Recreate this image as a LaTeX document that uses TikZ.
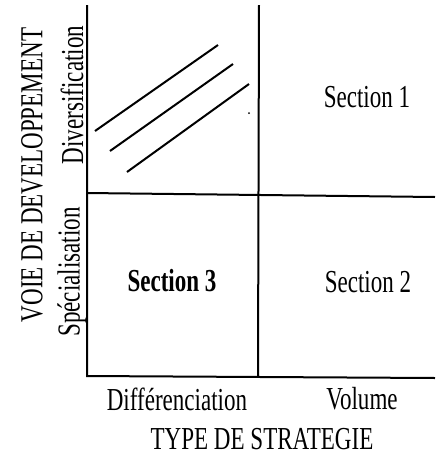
\documentclass[tikz,border=0pt]{standalone}
\usepackage{fontspec}
\setmainfont[FakeStretch=0.72]{Liberation Serif}
\begin{document}
\begin{tikzpicture}[x=1pt,y=-1pt,
  axisline/.style={line width=2pt},
  hatch/.style={line width=2pt},
  lbl/.style={font=\fontsize{32}{34}\selectfont, inner sep=0pt},
  sect/.style={lbl},
  sectb/.style={lbl, font=\fontsize{32}{34}\selectfont\bfseries}]
\useasboundingbox (0,0) rectangle (442,456);
% axis corners
\coordinate (tl) at (87,5);
\coordinate (bl) at (87,376);
\coordinate (br) at (435,378);
\coordinate (mt) at (259,5);
\coordinate (mb) at (258,377);
\coordinate (ml) at (87,193);
\coordinate (mr) at (435,197);
\draw[axisline] (tl) -- (bl) -- (br);
\draw[axisline] (mt) -- (mb);
\draw[axisline] (ml) -- (mr);
% diagonal lines
\coordinate (a1) at (95,131);  \coordinate (b1) at (218,45);
\coordinate (a2) at (110,151); \coordinate (b2) at (233,64);
\coordinate (a3) at (127,172); \coordinate (b3) at (249,84);
\draw[hatch] (a1) -- (b1);
\draw[hatch] (a2) -- (b2);
\draw[hatch] (a3) -- (b3);
\fill (249,113) circle (1pt);
% section labels
\node[sect] (s1) at (367,97) {Section 1};
\node[sect] (s2) at (368,282) {Section 2};
\node[sectb] (s3) at (172,281) {Section 3};
% axis labels
\node[lbl] (dif) at (177,399) {Différenciation};
\node[lbl] (vol) at (362,399) {Volume};
\node[lbl] (type) at (262,439) {TYPE DE STRATEGIE};
\node[lbl, rotate=90] (div) at (72,95) {Diversification};
\node[lbl, rotate=90] (spe) at (72,272) {Spécialisation};
\node[lbl, rotate=90] (voie) at (32,175) {VOIE DE DEVELOPPEMENT};
\end{tikzpicture}
\end{document}
